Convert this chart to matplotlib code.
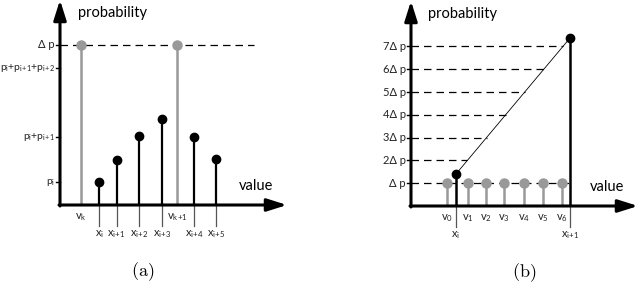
import numpy as np
import matplotlib
matplotlib.use("Agg")
import matplotlib.pyplot as plt

plt.rcParams['font.family'] = ['Lato', 'DejaVu Sans']
plt.rcParams['mathtext.default'] = 'regular'

########
# DATA #
########

# (a) -- sampled values x_i .. x_{i+5} and their probabilities
a_x = [1.97, 2.83, 3.97, 5.1, 6.7, 7.8]
a_p = [1.15, 2.25, 3.45, 4.3, 3.4, 2.3]
a_x_labels = ["x$_i$", r"x$_{i\!+\!1}$", r"x$_{i\!+\!2}$", r"x$_{i\!+\!3}$",
              r"x$_{i\!+\!4}$", r"x$_{i\!+\!5}$"]
# (a) -- equal probability levels v_k, v_{k+1}
a_v = [1.05, 5.87]
a_v_labels = ["v$_k$", r"v$_{k\!+\!1}$"]
a_dp = 8.0
a_ytick_labels = ["p$_i$", r"p$_i$+p$_{i\!+\!1}$", r"p$_i$+p$_{i\!+\!1}$+p$_{i\!+\!2}$"]

# (b) -- two samples and the interpolated levels v_0..v_6
b_x = [2.25, 7.95]
b_p = [1.6, 8.4]
b_x_labels = ["x$_i$", r"x$_{i\!+\!1}$"]
b_v = [1.79, 2.84, 3.75, 4.65, 5.65, 6.6, 7.54]
b_v_labels = ["v$_%d$" % k for k in range(7)]
b_dp = 1.14
b_levels = np.arange(1, 8)

GRAY = "#999999"
AX_END_X = 11.35
AX_END_Y = 10.25


def draw_axes(ax, ylab_x):
    arrow = dict(arrowstyle="-|>,head_length=1.2,head_width=0.38", lw=2.2,
                 color="black", shrinkA=0, shrinkB=0)
    ax.annotate("", xy=(AX_END_X, 0), xytext=(-0.05, 0), arrowprops=arrow)
    ax.annotate("", xy=(0, AX_END_Y), xytext=(0, -0.05), arrowprops=arrow)
    ax.text(ylab_x, 9.6, "probability", fontsize=10.5, va="center", ha="left")
    ax.text(9.8, 0.95, "value", fontsize=10.5, va="center", ha="center")


def ytick(ax, y, label, size=8):
    ax.plot([-0.22, 0], [y, y], color="black", lw=1.0)
    ax.text(-0.25, y, label, fontsize=size, ha="right", va="center", color="#222222")


def xlabels(ax, xs, labels, low):
    for x, lab in zip(xs, labels):
        if low:
            ax.plot([x, x], [0, -1.05], color="#555555", lw=0.9, zorder=1)
            ax.text(x, -1.15, lab, fontsize=8, ha="center", va="top", color="#222222")
        else:
            ax.text(x, -0.3, lab, fontsize=8, ha="center", va="top", color="#222222")


fig = plt.figure(figsize=(6.4, 2.84), dpi=100)
ax1 = fig.add_axes([0, 0, 0.5, 1])
ax2 = fig.add_axes([0.5, 0, 0.5, 1])
ax1.set_xlim(-3.0, 13.0)
ax1.set_ylim(-3.95, 10.25)
ax2.set_xlim(-4.55, 11.45)
ax2.set_ylim(-3.9, 10.3)
for ax in (ax1, ax2):
    ax.axis("off")

############
# PANEL A  #
############

ax1.plot([0, 9.7], [a_dp, a_dp], color="black", lw=0.9, dashes=(6, 4), zorder=1)
ax1.vlines(a_v, 0, a_dp, color=GRAY, lw=1.8, zorder=2)
ax1.plot(a_v, [a_dp] * len(a_v), "o", color=GRAY, ms=6.5, zorder=3)
ax1.vlines(a_x, 0, a_p, color="black", lw=1.6, zorder=2)
ax1.plot(a_x, a_p, "o", color="black", ms=6, zorder=3)

ytick(ax1, a_dp, "Δ p")
for y, lab in zip(np.cumsum(a_p[:3]), a_ytick_labels):
    ytick(ax1, y, lab, size=7.5)
xlabels(ax1, a_v, a_v_labels, low=False)
xlabels(ax1, a_x, a_x_labels, low=True)
draw_axes(ax1, 0.9)
ax1.text(4.15, -3.35, r"$\mathrm{(a)}$", fontsize=13, ha="center", va="center",
         math_fontfamily="cm")

############
# PANEL B  #
############

for k in b_levels:
    y = k * b_dp
    x_end = b_x[1] if k == 1 else np.interp(y, b_p, b_x)
    ax2.plot([0, x_end], [y, y], color="black", lw=0.9, dashes=(6, 4), zorder=1)
    ytick(ax2, y, "Δ p" if k == 1 else "%dΔ p" % k)

ax2.plot(b_x, b_p, color="black", lw=0.6, zorder=2)
ax2.vlines(b_v, 0, b_dp, color=GRAY, lw=1.8, zorder=2)
ax2.plot(b_v, [b_dp] * len(b_v), "o", color=GRAY, ms=6.5, zorder=3)
ax2.vlines(b_x, 0, b_p, color="black", lw=1.8, zorder=3)
ax2.plot(b_x, b_p, "o", color="black", ms=6, zorder=4)

xlabels(ax2, b_v, b_v_labels, low=False)
xlabels(ax2, b_x, b_x_labels, low=True)
draw_axes(ax2, 0.85)
ax2.text(5.65, -3.35, r"$\mathrm{(b)}$", fontsize=13, ha="center", va="center",
         math_fontfamily="cm")

fig.savefig("out.png", dpi=100)
